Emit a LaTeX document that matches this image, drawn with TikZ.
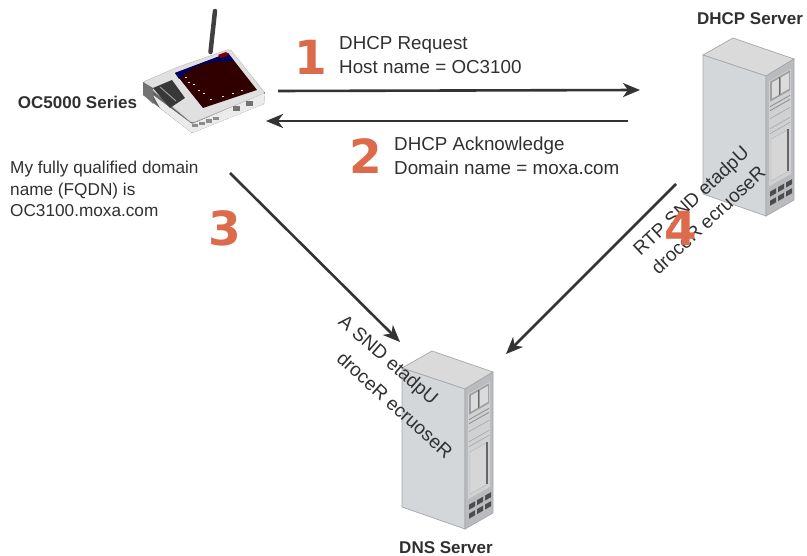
\documentclass[tikz,border=0pt]{standalone}
\usepackage{fontspec}
\setmainfont{Liberation Sans}
\newfontfamily\numfont{DejaVu Sans}
\usetikzlibrary{arrows.meta}
\definecolor{txt}{HTML}{303030}
\definecolor{orng}{HTML}{DB6B4A}
\definecolor{arrowc}{HTML}{333333}
\definecolor{srvtop}{HTML}{DADADB}
\definecolor{srvleft}{HTML}{D4D7DA}
\definecolor{srvright}{HTML}{B9BBBE}
\definecolor{srvedge}{HTML}{A5A7AA}
\definecolor{srvpanel}{HTML}{CFD1D3}
\tikzset{
  x=1pt,y=-1pt,
  flow/.style={draw=arrowc,line width=2.6pt,-{Stealth[length=17pt,width=14pt,inset=5pt]}},
  lab/.style={text=txt,font=\fontsize{18.8}{24}\selectfont,align=left,anchor=west,inner sep=0pt},
  smalllab/.style={text=txt,font=\fontsize{17.2}{21.5}\selectfont,align=left,anchor=west,inner sep=0pt},
  boldlab/.style={text=txt,font=\fontsize{17}{21}\selectfont\bfseries,inner sep=0pt},
  rotlab/.style={text=txt,font=\fontsize{19}{24}\selectfont,inner sep=0pt},
  num/.style={text=orng,font=\fontsize{47}{47}\selectfont\numfont\bfseries,inner sep=0pt},
  server/.pic={
    \fill[fill=srvtop,draw=srvedge,line width=.7pt] (0,0)--(30,-17)--(91,4)--(63,21)--cycle;
    \fill[fill=srvleft,draw=srvedge,line width=.7pt] (0,0)--(63,21)--(63,161)--(0,139)--cycle;
    \fill[fill=srvright,draw=srvedge,line width=.7pt] (63,21)--(91,4)--(91,145)--(63,161)--cycle;
    \begin{scope}[shift={(63pt,-21pt)},x={(1pt,0.57pt)},y={(0pt,-1pt)}]
      \fill[srvpanel] (3,7)--(25,7)--(25,112)--(3,112)--cycle;
      \fill[black!38] (4,8)--(24,8)--(24,28)--(4,28)--cycle;
      \fill[black!14] (6,10)--(13,10)--(13,26)--(6,26)--cycle;
      \fill[black!14] (15,10)--(23,10)--(23,26)--(15,26)--cycle;
      \draw[black!60,line width=1pt] (13.5,9)--(13.5,27);
      \draw[black!45,line width=.8pt] (4,33)--(24,33) (4,37)--(24,37);
      \draw[black!35,line width=.6pt] (4,45)--(24,45) (4,55)--(24,55) (4,60)--(24,60);
      \fill[black!16,draw=black!30,line width=.4pt] (5,66)--(22,66)--(22,108)--(5,108)--cycle;
      \draw[black!60,line width=1.2pt] (22,66)--(22,108);
      \foreach \u in {4,12,20}{
        \fill[black!70] (\u,118)--(\u+6,118)--(\u+6,123)--(\u,123)--cycle;
        \fill[black!70] (\u,127)--(\u+6,127)--(\u+6,132)--(\u,132)--cycle;
      }
    \end{scope}
  }
}
\begin{document}
\begin{tikzpicture}
\useasboundingbox (0,0) rectangle (807,556);
% router antenna
\draw[black!75,line width=4.5pt,line cap=round] (210.5,52) -- (215,11);
% router body
\fill[black!60] (143,82)--(143,95)--(192,133)--(264,104)--(265,92)--cycle;
\fill[black!12,draw=black!25,line width=.5pt,rounded corners=2pt] (143,82)--(178,67)--(230,49)--(265,93)--(192,123)--cycle;
\fill[black!8,rounded corners=1pt] (153,95)--(192,124)--(265,93)--(264,104)--(192,133)--(160,108)--cycle;
\fill[black!55] (143,82)--(143,94)--(153,104)--(153,88)--cycle;
% screen
\fill[black!75!red!75!black] (175,73)--(228,53)--(257,90)--(203,108)--cycle;
\fill[blue!40!black] (175,73)--(228,53)--(234,61) .. controls (207,60) and (189,67) .. (179,79)--cycle;
\fill[red!50!black] (218,55)--(226,52)--(229,55)--(221,58)--cycle;
% left panel
\fill[black!78] (153,88)--(172,80)--(185,98)--(170,108)--cycle;
\draw[black!40,line width=1pt] (160,87)--(176,101);
% ports
\foreach \xx/\yy in {192/124,199/122,206/119.5,213/117}{
  \fill[black!45] (\xx,\yy) rectangle +(5.5,3.5);
}
\foreach \xx/\yy in {233/106,246/101}{
  \fill[black!55] (\xx,\yy) rectangle +(7,5);
}
\foreach \xx/\yy in {185/77,188/82,193/84,198/90,203/93,210/99,222/96,232/93,241/90}{
  \fill[white!70!orange] (\xx,\yy) rectangle +(2,1.5);
}
% servers
\pic at (703,55) {server};
\pic at (402,368) {server};
% connectors
\coordinate (routerOut) at (278,91);
\coordinate (dhcpIn) at (640,90);
\coordinate (dhcpOut) at (628,121);
\coordinate (routerIn) at (266,121);
\coordinate (fqdnOut) at (230,173);
\coordinate (dnsInA) at (400,342);
\coordinate (dhcpOutB) at (676,184);
\coordinate (dnsInB) at (506,354);
\draw[flow] (routerOut) -- (dhcpIn);
\draw[flow] (dhcpOut) -- (routerIn);
\draw[flow] (fqdnOut) -- (dnsInA);
\draw[flow] (dhcpOutB) -- (dnsInB);
% labels
\node[boldlab] (oc) at (77.5,102) {OC5000 Series};
\node[boldlab] (dhcp) at (750,19) {DHCP Server};
\node[boldlab] (dns) at (446,548) {DNS Server};
\node[smalllab] (fqdn) at (10,189) {My fully qualified domain\\name (FQDN) is\\OC3100.moxa.com};
\node[lab] (req) at (339,55) {DHCP Request\\Host name = OC3100};
\node[lab] (ack) at (394,156) {DHCP Acknowledge\\Domain name = moxa.com};
\node[num] (n1) at (311,57) {1};
\node[num] (n2) at (366,156) {2};
\node[num] (n3) at (225,228) {3};
\node[rotlab,rotate=-41] (ra1) at (387.5,361) {A SND etadpU};
\node[rotlab,rotate=-42] (ra2) at (395,405) {droceR ecruoseR};
\node[rotlab,rotate=43] (rb1) at (692,202) {RTP SND etadpU};
\node[rotlab,rotate=43] (rb2) at (708,220) {droceR ecruoseR};
\node[num] (n4) at (681,228) {4};
\end{tikzpicture}
\end{document}
